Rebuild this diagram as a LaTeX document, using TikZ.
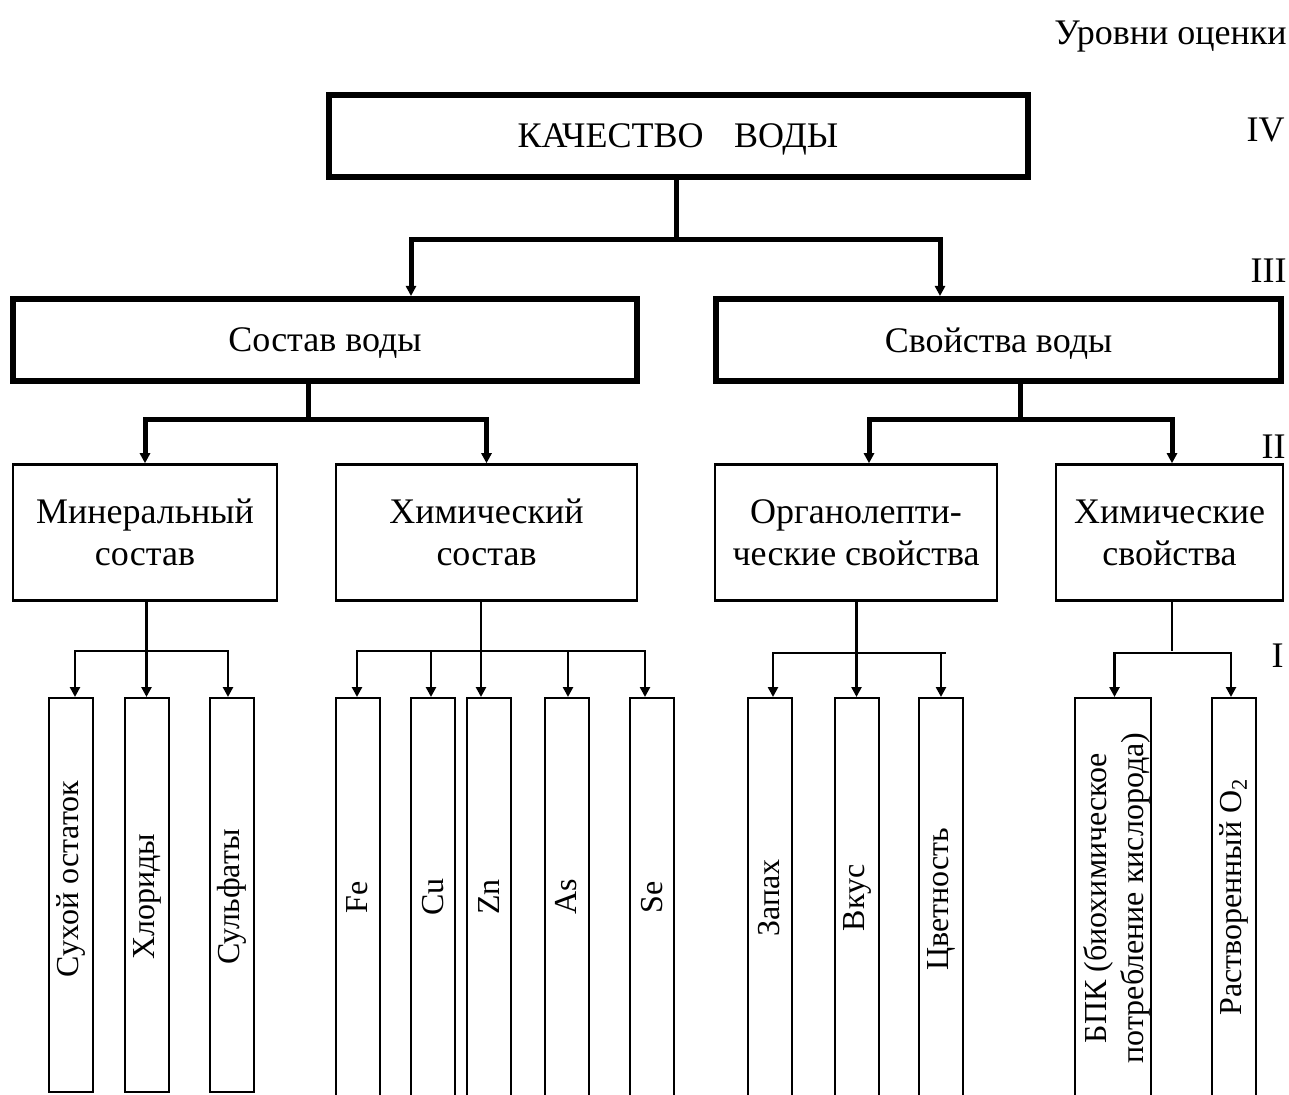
\documentclass[tikz,border=0pt]{standalone}
\usepackage{fontspec}
\setmainfont{Liberation Serif}
\usetikzlibrary{arrows.meta}
\begin{document}
\begin{tikzpicture}[x=0.5pt,y=-0.5pt,
  heavybox/.style={draw, line width=3pt, inner sep=0pt, text depth=0pt, font=\fontsize{18}{21}\selectfont},
  midbox/.style={draw, line width=1.25pt, inner sep=0pt, align=center, font=\fontsize{18}{21}\selectfont},
  leafbox/.style={draw, line width=1pt, inner sep=0pt, minimum width=22pt},
  closedleaf/.style={leafbox, minimum height=197pt},
  openleaf/.style={leafbox, minimum height=206pt},
  leaftext/.style={rotate=90, inner sep=0pt, align=center, font=\fontsize{16}{18.5}\selectfont},
  lvl/.style={anchor=base east, inner sep=0pt, font=\fontsize{18}{21}\selectfont},
  bigconn/.style={line width=2.5pt},
  smallconn/.style={line width=1.25pt},
  tip/.style={-{Triangle[width=5pt,length=5pt]}},
]
\path[use as bounding box] (0,0) rectangle (1289,1095);
\clip (0,0) rectangle (1289,1095);

% level labels
\node[lvl] (title) at (1287,45) {Уровни оценки};
\node[lvl] (l4) at (1285,142) {IV};
\node[lvl] (l3) at (1287,283) {III};
\node[lvl] (l2) at (1286,459) {II};
\node[lvl] (l1) at (1284,668) {I};

% level IV
\node[heavybox, minimum width=349.5pt, minimum height=41pt] (q) at (678,136) {КАЧЕСТВО\hspace{0.6em} ВОДЫ};

% level III
\node[heavybox, minimum width=312pt, minimum height=41pt] (s) at (325,340) {Состав воды};
\node[heavybox, minimum width=282.5pt, minimum height=41pt] (p) at (998.5,340) {Свойства воды};

% level II
\node[midbox, minimum width=132pt, minimum height=68pt] (m) at (145,532.5) {Минеральный\\состав};
\node[midbox, minimum width=150.5pt, minimum height=68pt] (c) at (486.5,532.5) {Химический\\состав};
\node[midbox, minimum width=141pt, minimum height=68pt] (o) at (856,532.5) {Органолепти-\\ческие свойства};
\node[midbox, minimum width=113.5pt, minimum height=68pt] (h) at (1169.5,532.5) {Химические\\свойства};

% level I boxes
\node[closedleaf] (f1) at (70.5,895) {};
\node[closedleaf] (f2) at (147,895) {};
\node[closedleaf] (f3) at (231.5,895) {};
\node[openleaf] (fe) at (357.5,904) {};
\node[openleaf] (cu) at (433,904) {};
\node[openleaf] (zn) at (489,904) {};
\node[openleaf] (as) at (566.5,904) {};
\node[openleaf] (se) at (652,904) {};
\node[openleaf] (z1) at (769.5,904) {};
\node[openleaf] (z2) at (857,904) {};
\node[openleaf] (z3) at (941,904) {};
\node[openleaf, minimum width=38pt] (b1) at (1113,904) {};
\node[openleaf] (b2) at (1234,904) {};

% level I texts
\node[leaftext] (t1) at (70.5,879) {Сухой остаток};
\node[leaftext] (t2) at (147,897) {Хлориды};
\node[leaftext] (t3) at (231.5,897) {Сульфаты};
\node[leaftext] (tfe) at (357.5,897) {Fe};
\node[leaftext] (tcu) at (433,897) {Cu};
\node[leaftext] (tzn) at (489,897) {Zn};
\node[leaftext] (tas) at (566.5,897) {As};
\node[leaftext] (tse) at (652,897) {Se};
\node[leaftext] (tz1) at (769.5,898) {Запах};
\node[leaftext] (tz2) at (857,898) {Вкус};
\node[leaftext] (tz3) at (941,899) {Цветность};
\node[leaftext] (tb1) at (1117,898) {БПК (биохимическое\\потребление кислорода)};
\node[leaftext] (tb2) at (1234,897) {Растворенный O\textsubscript{2}};

% connectors IV -> III
\coordinate (j4) at (676,240);
\coordinate (a3l) at (411,0);
\coordinate (a3r) at (940,0);
\draw[bigconn] (j4 |- q.south) -- (j4);
\draw[bigconn, tip] (j4) -| (a3l |- s.north);
\draw[bigconn, tip] (j4) -| (a3r |- p.north);

% connectors III -> II
\coordinate (j3l) at (308,420);
\coordinate (j3r) at (1020,420);
\coordinate (a2o) at (869,0);
\draw[bigconn] (j3l |- s.south) -- (j3l);
\draw[bigconn, tip] (j3l) -| (m.north);
\draw[bigconn, tip] (j3l) -| (c.north);
\draw[bigconn] (j3r |- p.south) -- (j3r);
\draw[bigconn, tip] (j3r) -| (a2o |- o.north);
\draw[bigconn, tip] (j3r) -| ([xshift=1.25pt]h.north);

% connectors II -> I : mineral
\coordinate (jm) at (146.5,651);
\draw[smallconn, tip] (jm |- m.south) -- (jm |- f2.north);
\draw[smallconn, tip] (jm) -| ([xshift=2.25pt]f1.north);
\draw[smallconn, tip] (jm) -| ([xshift=-1.75pt]f3.north);

% chemical composition
\coordinate (jc) at (481,651);
\draw[smallconn, tip] (jc |- c.south) -- (jc |- zn.north);
\draw[smallconn, tip] (jc) -| ([xshift=-0.25pt]fe.north);
\draw[smallconn, tip] (jc) -| ([xshift=-1pt]cu.north);
\draw[smallconn, tip] (jc) -| ([xshift=0.75pt]as.north);
\draw[smallconn, tip] (jc) -| ([xshift=-3.5pt]se.north);

% organoleptic
\coordinate (jo) at (856.5,653);
\coordinate (oe) at (946,653);
\draw[smallconn, tip] (jo |- o.south) -- (jo |- z2.north);
\draw[smallconn, tip] (jo) -| ([xshift=1.75pt]z1.north);
\draw[smallconn] (jo) -- (oe);
\draw[smallconn, tip] (z3.north |- oe) -- (z3.north);

% chemical properties
\coordinate (jh) at (1172,651);
\coordinate (hb) at (1172,653);
\draw[smallconn] (jh |- h.south) -- (jh);
\draw[smallconn, tip] (hb) -| ([xshift=0.75pt]b1.north);
\draw[smallconn, tip] (hb) -| ([xshift=-1.5pt]b2.north);
\end{tikzpicture}
\end{document}
